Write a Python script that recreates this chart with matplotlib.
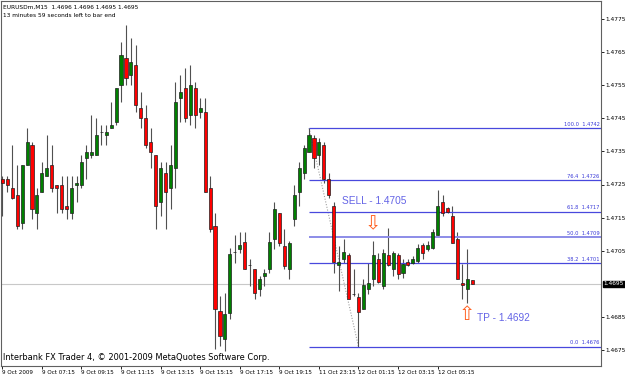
import matplotlib
matplotlib.use('Agg')
import matplotlib.pyplot as plt
from matplotlib import font_manager
import matplotlib.transforms as mtransforms
import numpy as np


def pick_font(names):
    for n in names:
        try:
            font_manager.findfont(font_manager.FontProperties(family=n), fallback_to_default=False)
            return n
        except Exception:
            pass
    return 'DejaVu Sans'


NARROW = pick_font(['Liberation Sans Narrow', 'DejaVu Sans'])
SANS = pick_font(['Liberation Sans', 'DejaVu Sans'])

# ---------------- data (EURUSDm, M15) ----------------
opens = [1.47268, 1.47268, 1.47238, 1.47217, 1.47135, 1.47308, 1.47368, 1.47165, 1.47226, 1.47277,
         1.47308, 1.47247, 1.47247, 1.47186, 1.47165, 1.47247, 1.47247, 1.47329, 1.47338, 1.47338,
         1.47408, 1.47399, 1.47420, 1.47438, 1.47550, 1.47632, 1.47580, 1.47611, 1.47480, 1.47450,
         1.47377, 1.47338, 1.47196, 1.47286, 1.47238, 1.47299, 1.47511, 1.47541, 1.47459, 1.47541,
         1.47468, 1.47468, 1.47238, 1.47126, 1.46868, 1.46783, 1.46862, 1.47047, 1.47056, 1.47077,
         1.47008, 1.46996, 1.46935, 1.46974, 1.46996, 1.47086, 1.47165, 1.47065, 1.46996, 1.47147,
         1.47226, 1.47286, 1.47347, 1.47389, 1.47338, 1.47368, 1.47268, 1.47186, 1.47008, 1.47026,
         1.47038, 1.46920, 1.46911, 1.46874, 1.46935, 1.46965, 1.47026, 1.46944, 1.47038, 1.46996,
         1.47038, 1.46983, 1.47017, 1.47014, 1.47020, 1.47068, 1.47056, 1.47059, 1.47096, 1.47196,
         1.47180, 1.47156, 1.47086, 1.46953, 1.46935, 1.4696]
highs = [1.47277, 1.47277, 1.47368, 1.47308, 1.47308, 1.47420, 1.47377, 1.47238, 1.47317, 1.47399,
         1.47368, 1.47247, 1.47277, 1.47277, 1.47277, 1.47277, 1.47338, 1.47368, 1.47459, 1.47450,
         1.47429, 1.47429, 1.47499, 1.47541, 1.47680, 1.47732, 1.47692, 1.47671, 1.47529, 1.47489,
         1.47420, 1.47338, 1.47317, 1.47317, 1.47368, 1.47559, 1.47580, 1.47602, 1.47611, 1.47559,
         1.47511, 1.47511, 1.47277, 1.47165, 1.46914, 1.46923, 1.47059, 1.47096, 1.47105, 1.47105,
         1.47026, 1.46996, 1.46974, 1.46996, 1.47105, 1.47196, 1.47165, 1.47117, 1.47080, 1.47247,
         1.47317, 1.47368, 1.47420, 1.47399, 1.47389, 1.47377, 1.47286, 1.47196, 1.47065, 1.47086,
         1.47044, 1.46996, 1.46923, 1.46965, 1.47014, 1.47080, 1.47044, 1.47056, 1.47120, 1.47050,
         1.47044, 1.47026, 1.47026, 1.47035, 1.47071, 1.47074, 1.47080, 1.47117, 1.47232, 1.47217,
         1.47183, 1.47186, 1.47105, 1.47011, 1.47056, 1.4696]
lows = [1.47156, 1.47226, 1.47205, 1.47117, 1.47117, 1.47308, 1.47147, 1.47117, 1.47226, 1.47277,
        1.47226, 1.47165, 1.47165, 1.47147, 1.47147, 1.47196, 1.47238, 1.47268, 1.47329, 1.47338,
        1.47368, 1.47368, 1.47420, 1.47429, 1.47499, 1.47550, 1.47550, 1.47468, 1.47420, 1.47359,
        1.47299, 1.47117, 1.47156, 1.47117, 1.47177, 1.47238, 1.47438, 1.47438, 1.47429, 1.47420,
        1.47450, 1.47226, 1.47105, 1.46753, 1.46762, 1.46747, 1.46844, 1.47014, 1.47044, 1.46996,
        1.46944, 1.46905, 1.46914, 1.46944, 1.46983, 1.47056, 1.47065, 1.46996, 1.46965, 1.47126,
        1.47186, 1.47268, 1.47347, 1.47299, 1.47308, 1.47256, 1.47208, 1.46983, 1.46929, 1.47014,
        1.46905, 1.46914, 1.46760, 1.46874, 1.46920, 1.46944, 1.46953, 1.46935, 1.47005, 1.46974,
        1.46965, 1.46968, 1.47005, 1.47011, 1.47014, 1.47026, 1.47050, 1.47056, 1.47096, 1.47156,
        1.47165, 1.47074, 1.46965, 1.46905, 1.46893, 1.4695]
closes = [1.47256, 1.47247, 1.47208, 1.47126, 1.47308, 1.47377, 1.47177, 1.47217, 1.47286, 1.47299,
          1.47238, 1.47238, 1.47177, 1.47177, 1.47238, 1.47256, 1.47317, 1.47347, 1.47347, 1.47399,
          1.47408, 1.47408, 1.47429, 1.47541, 1.47641, 1.47571, 1.47620, 1.47489, 1.47450, 1.47368,
          1.47347, 1.47186, 1.47299, 1.47226, 1.47308, 1.47499, 1.47529, 1.47450, 1.47550, 1.47459,
          1.47480, 1.47226, 1.47117, 1.46874, 1.46793, 1.46859, 1.47041, 1.47047, 1.47068, 1.46996,
          1.47008, 1.46923, 1.46965, 1.46983, 1.47077, 1.47177, 1.47074, 1.47005, 1.47074, 1.47217,
          1.47299, 1.47359, 1.47399, 1.47329, 1.47377, 1.47268, 1.47217, 1.47017, 1.47017, 1.47047,
          1.46905, 1.46920, 1.46865, 1.46947, 1.46953, 1.47038, 1.46956, 1.47044, 1.47008, 1.47044,
          1.46980, 1.47011, 1.47008, 1.47026, 1.47059, 1.47044, 1.47068, 1.47105, 1.47186, 1.47165,
          1.47168, 1.47074, 1.46965, 1.46947, 1.46965, 1.4695]

time_label_bars = [0, 8, 16, 24, 32, 40, 48, 56, 64, 72, 80, 88]
time_labels = ["9 Oct 2009", "9 Oct 07:15", "9 Oct 09:15", "9 Oct 11:15", "9 Oct 13:15",
               "9 Oct 15:15", "9 Oct 17:15", "9 Oct 19:15", "11 Oct 23:15", "12 Oct 01:15",
               "12 Oct 03:15", "12 Oct 05:15"]
price_ticks = [1.4775, 1.4765, 1.4755, 1.4745, 1.4735, 1.4725, 1.4715, 1.4705, 1.4685, 1.4675]

fib_levels = [0.0, 38.2, 50.0, 61.8, 76.4, 100.0]
fib_prices = [1.4676, 1.47012, 1.4709, 1.47168, 1.47264, 1.4742]
fib_start_bar = 62
fib_end_bar = 72          # anchor of the 0.0 level (swing low)
current_price = 1.4695

sell_text, sell_bar, sell_price = "SELL - 1.4705", 68.7, 1.47199
sell_arrow_bar, sell_arrow_price = 74.9, 1.47130
tp_text, tp_bar, tp_price = "TP - 1.4692", 95.9, 1.46848
tp_arrow_bar, tp_arrow_price = 94.0, 1.46858

header1 = "EURUSDm,M15  1.4696 1.4696 1.4695 1.4695"
header2 = "13 minutes 59 seconds left to bar end"
footer = "Interbank FX Trader 4, \u00a9 2001-2009 MetaQuotes Software Corp."

# ---------------- figure ----------------
W, H = 625, 378
fig = plt.figure(figsize=(W / 100, H / 100), dpi=100)
fig.patch.set_facecolor('white')
ax = fig.add_axes([1 / W, 1 - 366 / H, 600 / W, 365 / H])
ax.set_facecolor('white')

n = len(opens)
x = np.arange(n)
o = np.array(opens); c = np.array(closes); h = np.array(highs); l = np.array(lows)
up = c >= o

SMALL = [NARROW, 'DejaVu Sans']

# current price line
ax.axhline(current_price, color='#c8c8c8', lw=0.8, zorder=1)

# fib dotted trend line
ax.plot([fib_start_bar, fib_end_bar], [fib_prices[-1], fib_prices[0]], ls=(0, (1, 1.5)),
        color='#a0a0a0', lw=0.8, zorder=1.5)

# wicks
ax.vlines(x, l, h, color='#505050', lw=0.8, zorder=2)
# bodies
body_bottom = np.minimum(o, c)
body_h = np.abs(c - o)
colors = np.where(up, '#008000', '#ff0000')
ax.bar(x, body_h, bottom=body_bottom, width=0.62, color=colors, edgecolor='#202020',
       linewidth=0.5, zorder=3)

# fib lines
xmax = 121.02
for lvl, pr in zip(fib_levels, fib_prices):
    if lvl == 50.0:
        ax.hlines(pr, fib_start_bar, xmax, color='#8c8ce8', lw=1.4, zorder=2.5)
    else:
        ax.hlines(pr, fib_start_bar, xmax, color='#4848dd', lw=0.9, zorder=2.5)
    ax.text(xmax - 0.3, pr + 0.00004, f"{lvl:.1f}  {pr:.4f}", ha='right', va='bottom',
            fontsize=3.7, color='#3a3ad8', family=SMALL, zorder=4)

# annotations
ax.text(sell_bar, sell_price, sell_text, ha='left', va='center', fontsize=7.3,
        color='#6464e6', family=SANS, zorder=5)
ax.text(tp_bar, tp_price, tp_text, ha='left', va='center', fontsize=7.3,
        color='#6464e6', family=SANS, zorder=5)
ax.text(sell_arrow_bar, sell_arrow_price, '\u21e9', ha='center', va='center', fontsize=14,
        color='#ff6020', family='DejaVu Sans', zorder=5)
ax.text(tp_arrow_bar, tp_arrow_price, '\u21e7', ha='center', va='center', fontsize=14,
        color='#ff6020', family='DejaVu Sans', zorder=5)

# limits
ax.set_xlim(-0.263, xmax)
ax.set_ylim(1.4775 - 347 / 33100, 1.4775 + 18 / 33100)

# axes style
for s in ax.spines.values():
    s.set_color('#606060')
    s.set_linewidth(0.8)

ax.yaxis.tick_right()
ax.set_yticks(price_ticks)
ax.set_yticklabels([f"{p:.4f}" for p in price_ticks])
ax.tick_params(axis='y', direction='out', length=2, width=0.6, pad=1, labelsize=4.2,
               colors='black')
for t in ax.get_yticklabels():
    t.set_family(SMALL)

ax.set_xticks(time_label_bars)
ax.set_xticklabels(time_labels)
ax.tick_params(axis='x', direction='out', length=2, width=0.6, pad=1, labelsize=4.1,
               colors='black')
for t in ax.get_xticklabels():
    t.set_horizontalalignment('left')
    t.set_family(SMALL)

# current price box on the axis
trans = mtransforms.blended_transform_factory(ax.transAxes, ax.transData)
ax.text(1.0045, current_price, f"{current_price:.4f}", transform=trans, ha='left', va='center',
        fontsize=4.2, color='white', family=SMALL, clip_on=False,
        bbox=dict(boxstyle='square,pad=0.12', fc='black', ec='black'), zorder=6)

# header / footer texts
ax.text(0.004, 0.990, header1, transform=ax.transAxes, ha='left', va='top', fontsize=4.2,
        family=SMALL, color='black')
ax.text(0.004, 0.966, header2, transform=ax.transAxes, ha='left', va='top', fontsize=4.2,
        family=SMALL, color='black')
ax.text(0.004, 0.012, footer, transform=ax.transAxes, ha='left', va='bottom', fontsize=5.95,
        family=SMALL, color='black')

fig.savefig('out.png', dpi=100, facecolor='white')
